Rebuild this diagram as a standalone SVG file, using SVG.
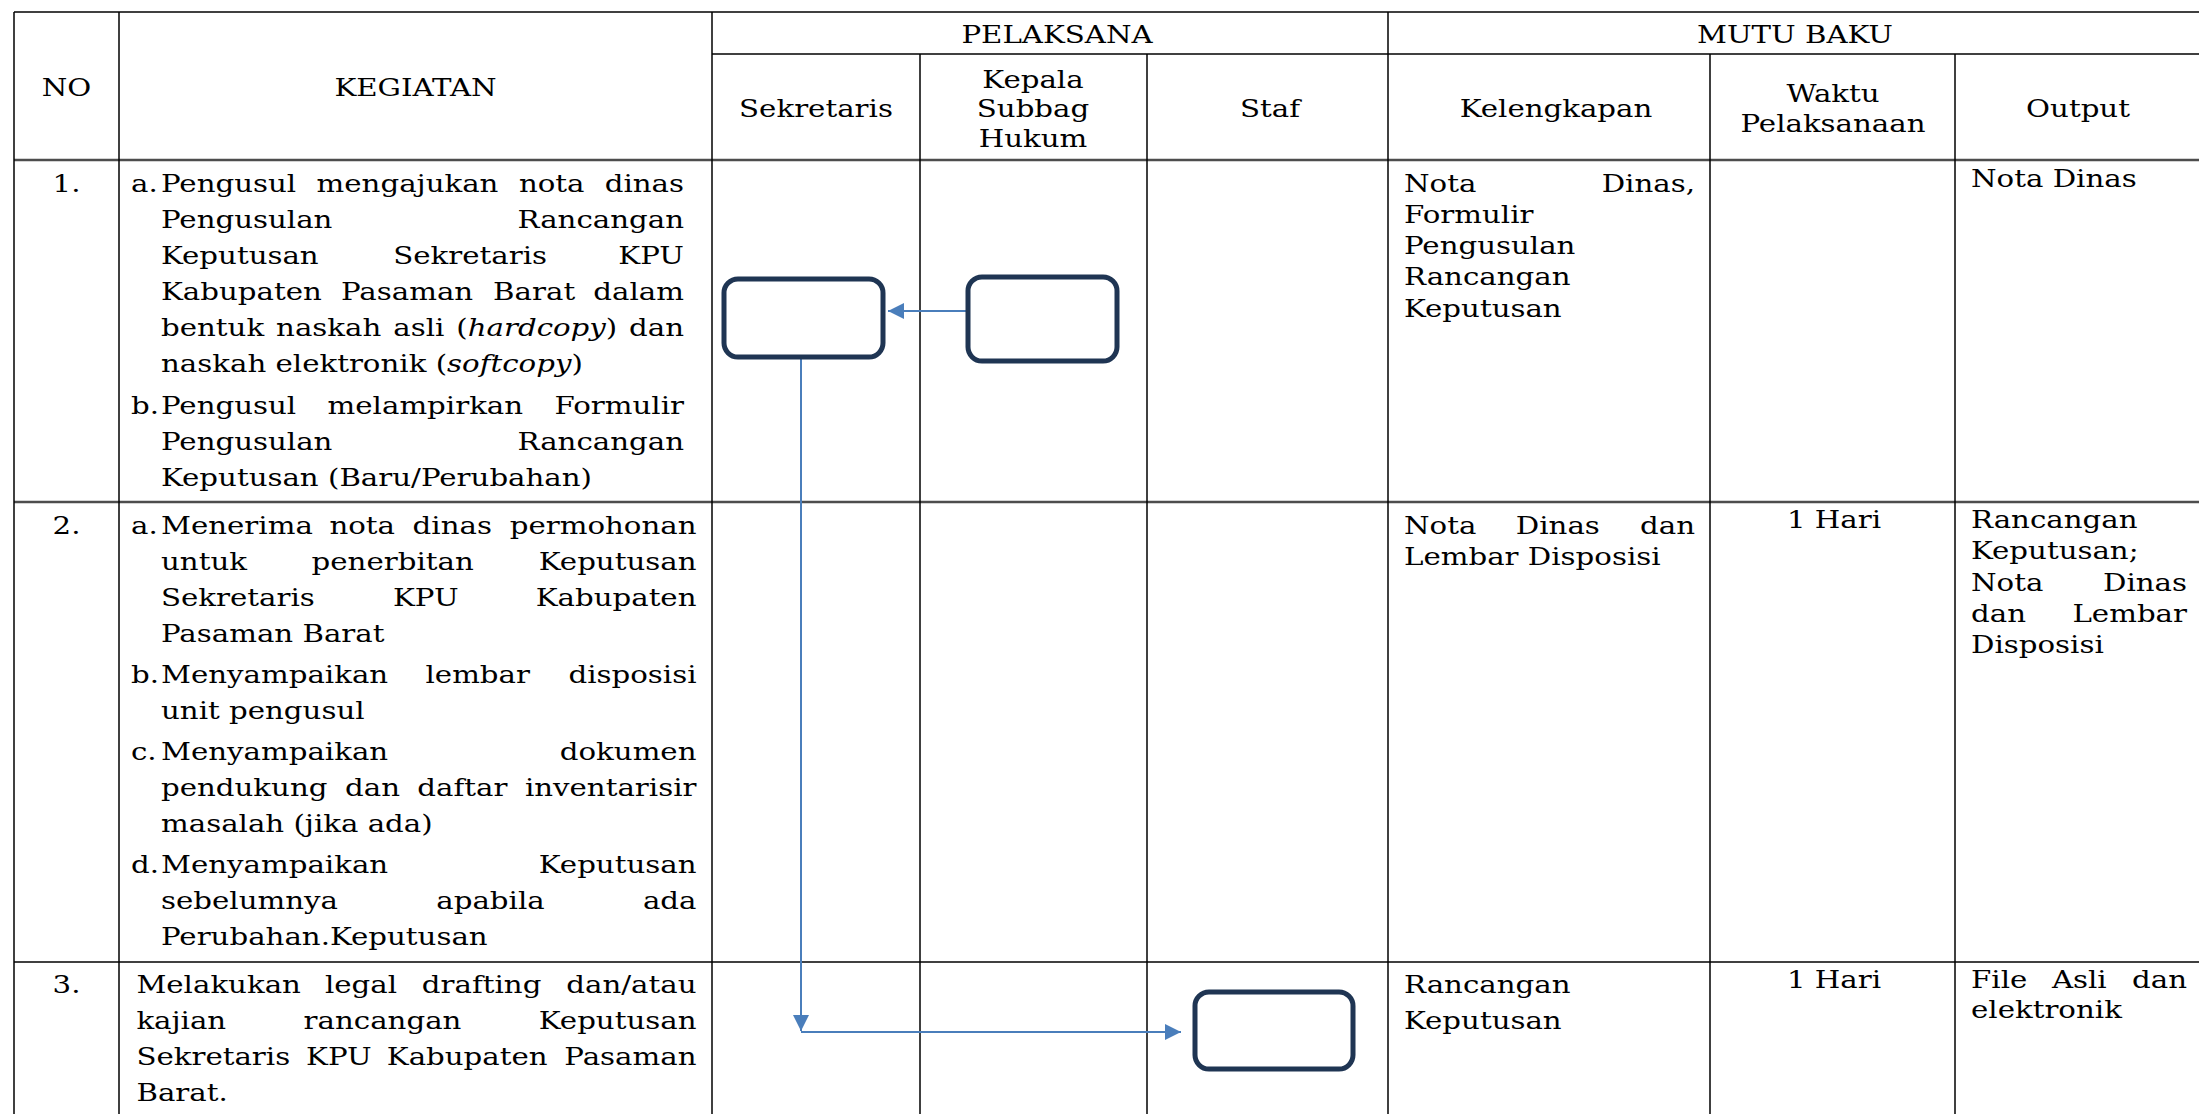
<svg xmlns="http://www.w3.org/2000/svg" width="2199" height="1114" viewBox="0 0 2199 1114">
<style>
.grid line{stroke:#000;stroke-width:1.5}
.grid line.thick{stroke:#4d4d4d;stroke-width:2.5}
.node rect{fill:#fff;stroke:#1F3553;stroke-width:5}
.conn path{stroke:#4A7EBB;stroke-width:2;fill:none;marker-end:url(#arr)}
text{font-family:"DejaVu Serif","Liberation Serif",serif;font-size:25px;fill:#000}
.m{text-anchor:middle}
.e{text-anchor:end}
.i{font-style:italic}
</style>
<defs>
<marker id="arr" markerUnits="userSpaceOnUse" markerWidth="16" markerHeight="16" viewBox="0 0 16 16" refX="16" refY="8" orient="auto">
<path d="M0,0 L16,8 L0,16 z" fill="#4A7EBB"/>
</marker>
</defs>
<rect width="2199" height="1114" fill="#fff"/>
<g id="table" class="grid">
<line x1="14" y1="12" x2="2199" y2="12"/>
<line x1="712" y1="54" x2="2199" y2="54"/>
<line class="thick" x1="14" y1="160" x2="2199" y2="160"/>
<line class="thick" x1="14" y1="502" x2="2199" y2="502"/>
<line x1="14" y1="962" x2="2199" y2="962"/>
<line x1="14" y1="12" x2="14" y2="1114"/>
<line x1="119" y1="12" x2="119" y2="1114"/>
<line x1="712" y1="12" x2="712" y2="1114"/>
<line x1="920" y1="54" x2="920" y2="1114"/>
<line x1="1147" y1="54" x2="1147" y2="1114"/>
<line x1="1388" y1="12" x2="1388" y2="1114"/>
<line x1="1710" y1="54" x2="1710" y2="1114"/>
<line x1="1955" y1="54" x2="1955" y2="1114"/>
</g>
<g id="header">
<text class="m" transform="translate(66.5 96) scale(1.17 1)">NO</text>
<text class="m" transform="translate(415.5 96) scale(1.17 1)">KEGIATAN</text>
<text class="m" transform="translate(1057 43) scale(1.17 1)">PELAKSANA</text>
<text class="m" transform="translate(1795 43) scale(1.17 1)">MUTU BAKU</text>
<text class="m" transform="translate(816 117) scale(1.17 1)">Sekretaris</text>
<text class="m" transform="translate(1033 87.5) scale(1.17 1)">Kepala</text>
<text class="m" transform="translate(1033 117) scale(1.17 1)">Subbag</text>
<text class="m" transform="translate(1033 147) scale(1.17 1)">Hukum</text>
<text class="m" transform="translate(1270 117) scale(1.17 1)">Staf</text>
<text class="m" transform="translate(1556 117) scale(1.17 1)">Kelengkapan</text>
<text class="m" transform="translate(1833 101.5) scale(1.17 1)">Waktu</text>
<text class="m" transform="translate(1833 131.5) scale(1.17 1)">Pelaksanaan</text>
<text class="m" transform="translate(2078 117) scale(1.17 1)">Output</text>
</g>
<g id="row1">
<text class="m" transform="translate(66.5 192) scale(1.17 1)">1.</text>
<text transform="translate(131 192) scale(1.17 1)">a.</text>
<text transform="translate(161 192) scale(1.17 1)">Pengusul</text>
<text transform="translate(316.6 192) scale(1.17 1)">mengajukan</text>
<text transform="translate(518.9 192) scale(1.17 1)">nota</text>
<text class="e" transform="translate(684 192) scale(1.17 1)">dinas</text>
<text transform="translate(161 228) scale(1.17 1)">Pengusulan</text>
<text class="e" transform="translate(684 228) scale(1.17 1)">Rancangan</text>
<text transform="translate(161 264) scale(1.17 1)">Keputusan</text>
<text transform="translate(393.2 264) scale(1.17 1)">Sekretaris</text>
<text class="e" transform="translate(684 264) scale(1.17 1)">KPU</text>
<text transform="translate(161 300) scale(1.17 1)">Kabupaten</text>
<text transform="translate(341 300) scale(1.17 1)">Pasaman</text>
<text transform="translate(493.1 300) scale(1.17 1)">Barat</text>
<text class="e" transform="translate(684 300) scale(1.17 1)">dalam</text>
<text transform="translate(161 336) scale(1.17 1)">bentuk</text>
<text transform="translate(276.1 336) scale(1.17 1)">naskah</text>
<text transform="translate(393.3 336) scale(1.17 1)">asli</text>
<text transform="translate(456.3 336) scale(1.17 1)">(<tspan class="i">hardcopy</tspan>)</text>
<text class="e" transform="translate(684 336) scale(1.17 1)">dan</text>
<text transform="translate(161 372) scale(1.17 1)">naskah elektronik (<tspan class="i">softcopy</tspan>)</text>
<text transform="translate(131 414) scale(1.17 1)">b.</text>
<text transform="translate(161 414) scale(1.17 1)">Pengusul</text>
<text transform="translate(327.6 414) scale(1.17 1)">melampirkan</text>
<text class="e" transform="translate(684 414) scale(1.17 1)">Formulir</text>
<text transform="translate(161 450) scale(1.17 1)">Pengusulan</text>
<text class="e" transform="translate(684 450) scale(1.17 1)">Rancangan</text>
<text transform="translate(161 486) scale(1.17 1)">Keputusan (Baru/Perubahan)</text>
<text transform="translate(1404 192) scale(1.17 1)">Nota</text>
<text class="e" transform="translate(1695 192) scale(1.17 1)">Dinas,</text>
<text transform="translate(1404 223) scale(1.17 1)">Formulir</text>
<text transform="translate(1404 254) scale(1.17 1)">Pengusulan</text>
<text transform="translate(1404 285) scale(1.17 1)">Rancangan</text>
<text transform="translate(1404 317) scale(1.17 1)">Keputusan</text>
<text transform="translate(1971 187) scale(1.17 1)">Nota Dinas</text>
</g>
<g id="row2">
<text class="m" transform="translate(66.5 534) scale(1.17 1)">2.</text>
<text transform="translate(131 534) scale(1.17 1)">a.</text>
<text transform="translate(161 534) scale(1.17 1)">Menerima</text>
<text transform="translate(329.4 534) scale(1.17 1)">nota</text>
<text transform="translate(412.6 534) scale(1.17 1)">dinas</text>
<text class="e" transform="translate(696.5 534) scale(1.17 1)">permohonan</text>
<text transform="translate(161 570) scale(1.17 1)">untuk</text>
<text transform="translate(311.6 570) scale(1.17 1)">penerbitan</text>
<text class="e" transform="translate(696.5 570) scale(1.17 1)">Keputusan</text>
<text transform="translate(161 606) scale(1.17 1)">Sekretaris</text>
<text transform="translate(393 606) scale(1.17 1)">KPU</text>
<text class="e" transform="translate(696.5 606) scale(1.17 1)">Kabupaten</text>
<text transform="translate(161 642) scale(1.17 1)">Pasaman Barat</text>
<text transform="translate(131 683) scale(1.17 1)">b.</text>
<text transform="translate(161 683) scale(1.17 1)">Menyampaikan</text>
<text transform="translate(425.5 683) scale(1.17 1)">lembar</text>
<text class="e" transform="translate(696.5 683) scale(1.17 1)">disposisi</text>
<text transform="translate(161 719) scale(1.17 1)">unit pengusul</text>
<text transform="translate(131 760) scale(1.17 1)">c.</text>
<text transform="translate(161 760) scale(1.17 1)">Menyampaikan</text>
<text class="e" transform="translate(696.5 760) scale(1.17 1)">dokumen</text>
<text transform="translate(161 796) scale(1.17 1)">pendukung</text>
<text transform="translate(345 796) scale(1.17 1)">dan</text>
<text transform="translate(417.3 796) scale(1.17 1)">daftar</text>
<text class="e" transform="translate(696.5 796) scale(1.17 1)">inventarisir</text>
<text transform="translate(161 832) scale(1.17 1)">masalah (jika ada)</text>
<text transform="translate(131 873) scale(1.17 1)">d.</text>
<text transform="translate(161 873) scale(1.17 1)">Menyampaikan</text>
<text class="e" transform="translate(696.5 873) scale(1.17 1)">Keputusan</text>
<text transform="translate(161 909) scale(1.17 1)">sebelumnya</text>
<text transform="translate(436.3 909) scale(1.17 1)">apabila</text>
<text class="e" transform="translate(696.5 909) scale(1.17 1)">ada</text>
<text transform="translate(161 945) scale(1.17 1)">Perubahan.Keputusan</text>
<text transform="translate(1404 534) scale(1.17 1)">Nota</text>
<text transform="translate(1515.8 534) scale(1.17 1)">Dinas</text>
<text class="e" transform="translate(1695 534) scale(1.17 1)">dan</text>
<text transform="translate(1404 565) scale(1.17 1)">Lembar Disposisi</text>
<text class="m" transform="translate(1834 528) scale(1.17 1)">1 Hari</text>
<text transform="translate(1971 528) scale(1.17 1)">Rancangan</text>
<text transform="translate(1971 559) scale(1.17 1)">Keputusan;</text>
<text transform="translate(1971 591) scale(1.17 1)">Nota</text>
<text class="e" transform="translate(2187 591) scale(1.17 1)">Dinas</text>
<text transform="translate(1971 622) scale(1.17 1)">dan</text>
<text class="e" transform="translate(2187 622) scale(1.17 1)">Lembar</text>
<text transform="translate(1971 653) scale(1.17 1)">Disposisi</text>
</g>
<g id="row3">
<text class="m" transform="translate(66.5 993) scale(1.17 1)">3.</text>
<text transform="translate(136.4 993) scale(1.17 1)">Melakukan</text>
<text transform="translate(324.9 993) scale(1.17 1)">legal</text>
<text transform="translate(421.8 993) scale(1.17 1)">drafting</text>
<text class="e" transform="translate(696.5 993) scale(1.17 1)">dan/atau</text>
<text transform="translate(136.4 1029) scale(1.17 1)">kajian</text>
<text transform="translate(303.6 1029) scale(1.17 1)">rancangan</text>
<text class="e" transform="translate(696.5 1029) scale(1.17 1)">Keputusan</text>
<text transform="translate(136.4 1065) scale(1.17 1)">Sekretaris</text>
<text transform="translate(306.1 1065) scale(1.17 1)">KPU</text>
<text transform="translate(386.8 1065) scale(1.17 1)">Kabupaten</text>
<text class="e" transform="translate(696.5 1065) scale(1.17 1)">Pasaman</text>
<text transform="translate(136.4 1101) scale(1.17 1)">Barat.</text>
<text transform="translate(1404 993) scale(1.17 1)">Rancangan</text>
<text transform="translate(1404 1029) scale(1.17 1)">Keputusan</text>
<text class="m" transform="translate(1834 988) scale(1.17 1)">1 Hari</text>
<text transform="translate(1971 988) scale(1.17 1)">File</text>
<text transform="translate(2051.9 988) scale(1.17 1)">Asli</text>
<text class="e" transform="translate(2187 988) scale(1.17 1)">dan</text>
<text transform="translate(1971 1018) scale(1.17 1)">elektronik</text>
</g>
<g id="connectors" class="conn">
<path d="M966,311 L888,311"/>
<path d="M801,359 L801,1031"/>
<path d="M801,1032 L1181,1032"/>
</g>
<g id="node-sekretaris" class="node"><rect x="724" y="279" width="159" height="78" rx="14"/></g>
<g id="node-kepala" class="node"><rect x="968" y="277" width="149" height="84" rx="14"/></g>
<g id="node-staf" class="node"><rect x="1195" y="992" width="158" height="77" rx="14"/></g>
</svg>
